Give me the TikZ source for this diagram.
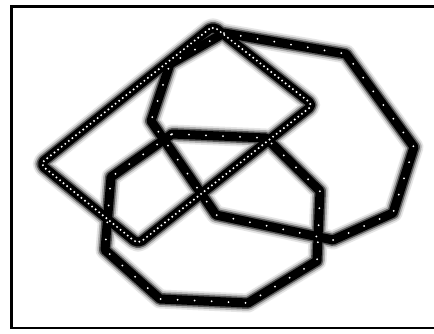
\documentclass[tikz,border=0pt]{standalone}
\begin{document}
\begin{tikzpicture}[x=1pt,y=-1pt,
  halo1/.style={line width=19pt,draw=black!10,line join=round},
  halo2/.style={line width=15.5pt,draw=black!30,line join=round},
  halo3/.style={line width=12pt,draw=black!65,line join=round},
  core/.style={line width=9pt,draw=black,line join=round},
  densedots/.style={draw=white,line width=2.2pt,line cap=round,dash pattern=on 0pt off 4.6pt},
  sparsedots/.style={draw=white,line width=2pt,line cap=round,dash pattern=on 0pt off 17pt},
  frame/.style={line width=2.5pt,draw=black}]
\useasboundingbox (0,0) rectangle (434,333);
\fill[white] (0,0) rectangle (434,333);
% frame
\draw[frame] (434,6.5) -- (11.5,6.5) -- (11.5,328) -- (434,328);
% polygon 3 (octagon)
\coordinate (c1) at (172,134);
\coordinate (c2) at (266,138);
\coordinate (c3) at (320,191);
\coordinate (c4) at (317,261);
\coordinate (c5) at (248,303);
\coordinate (c6) at (160,299);
\coordinate (c7) at (105,250);
\coordinate (c8) at (111,177);
% polygon 2
\coordinate (b1) at (224,33);
\coordinate (b2) at (346,54);
\coordinate (b3) at (414,147);
\coordinate (b4) at (393,213);
\coordinate (b5) at (333,240);
\coordinate (b6) at (216,215);
\coordinate (b7) at (151,121);
\coordinate (b8) at (170,64);
% polygon 1 (dotted quadrilateral)
\coordinate (a1) at (213,26);
\coordinate (a2) at (40,164);
\coordinate (a3) at (138,244);
\coordinate (a4) at (313,105);
\foreach \s in {halo1,halo2,halo3,core}{
  \draw[\s] (c1)--(c2)--(c3)--(c4)--(c5)--(c6)--(c7)--(c8)--cycle;
  \draw[\s] (b1)--(b2)--(b3)--(b4)--(b5)--(b6)--(b7)--(b8)--cycle;
  \draw[\s,rounded corners=5pt] (a1)--(a2)--(a3)--(a4)--cycle;
}
\draw[sparsedots] (c1)--(c2)--(c3)--(c4)--(c5)--(c6)--(c7)--(c8)--cycle;
\draw[sparsedots] (b1)--(b2)--(b3)--(b4)--(b5)--(b6)--(b7)--(b8)--cycle;
\draw[densedots,rounded corners=5pt] (a1)--(a2)--(a3)--(a4)--cycle;
\end{tikzpicture}
\end{document}
